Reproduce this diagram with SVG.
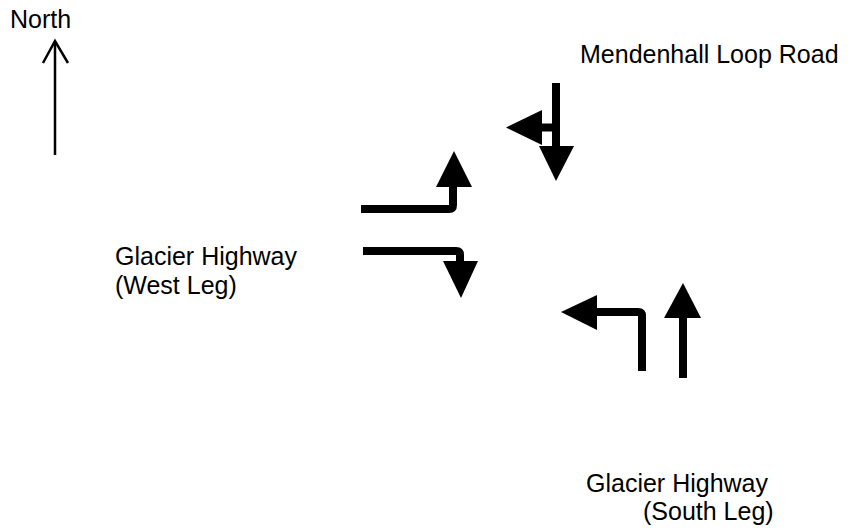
<svg xmlns="http://www.w3.org/2000/svg" width="851" height="531" viewBox="0 0 851 531">
<style>
text{font-family:"Liberation Sans",Arial,sans-serif;font-size:25px;fill:#000}
.shaft{fill:none;stroke:#000;stroke-width:8;stroke-linejoin:round}
.head{fill:#000;stroke:none}
.thin{fill:none;stroke:#000;stroke-width:2.5}
</style>
<rect width="851" height="531" fill="#fff"/>
<g id="north">
<line class="thin" x1="55" y1="41" x2="55" y2="155"/>
<polyline class="thin" points="43,63 55,41 68,63"/>
<text x="10" y="28" font-size="24">North</text>
</g>
<g id="labels">
<text x="580" y="63">Mendenhall Loop Road</text>
<text x="115" y="265">Glacier Highway</text>
<text x="115" y="294">(West Leg)</text>
<text x="586" y="492">Glacier Highway</text>
<text x="643" y="520">(South Leg)</text>
</g>
<g id="connectors">
<g id="sb-through">
<line class="shaft" x1="556" y1="83" x2="556" y2="147" stroke-linecap="butt"/>
<polygon class="head" points="539,146 574,146 556,181"/>
</g>
<g id="sb-left">
<line class="shaft" x1="541" y1="127.5" x2="556" y2="127.5" stroke-width="9"/>
<polygon class="head" points="506,127.5 542,110 542,145"/>
</g>
<g id="eb-left">
<path class="shaft" d="M361,209 H449 Q453,209 453,205 V186"/>
<polygon class="head" points="436,187 472,187 454,151"/>
</g>
<g id="eb-right">
<path class="shaft" d="M363,251 H456 Q460,251 460,255 V262"/>
<polygon class="head" points="443,261 478,261 461,298"/>
</g>
<g id="nb-through">
<line class="shaft" x1="683" y1="378" x2="683" y2="317"/>
<polygon class="head" points="664,318 701,318 683,283"/>
</g>
<g id="nb-left">
<path class="shaft" d="M642,371 V316 Q642,312 638,312 H596"/>
<polygon class="head" points="561,312 597,295 597,330"/>
</g>
</g>
</svg>
